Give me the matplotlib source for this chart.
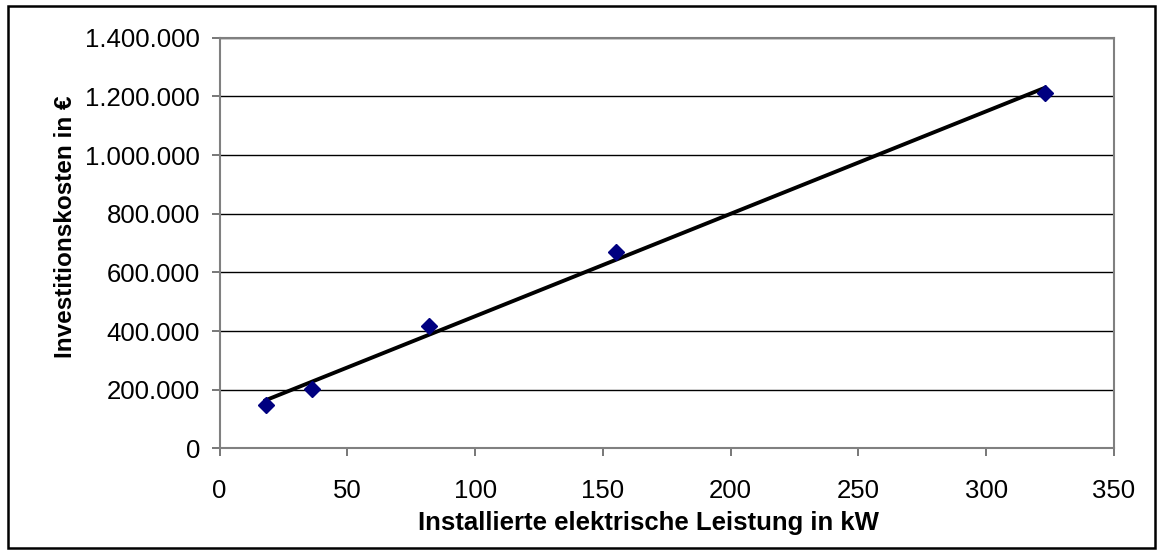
import numpy as np
import matplotlib.pyplot as plt
from matplotlib.patches import Rectangle
from matplotlib.ticker import FuncFormatter

# Werte
leistung_kw = [18, 36, 82, 155, 323]
kosten_eur = [149000, 203000, 416000, 669000, 1213000]

x_ticks = [0, 50, 100, 150, 200, 250, 300, 350]
y_ticks = [0, 200000, 400000, 600000, 800000, 1000000, 1200000, 1400000]

plt.rcParams['font.family'] = ['Liberation Sans', 'DejaVu Sans']

fig = plt.figure(figsize=(11.63, 5.53), dpi=100)
ax = fig.add_axes([0.1888, 0.1893, 0.9579 - 0.1888, 0.9318 - 0.1893])

# Rahmen um das gesamte Diagramm
fig.patches.append(Rectangle((8 / 1163, 5 / 553), 1147 / 1163, 542 / 553,
                             transform=fig.transFigure, fill=False,
                             edgecolor='black', linewidth=1.8))

# lineare Trendlinie
slope, intercept = np.polyfit(leistung_kw, kosten_eur, 1)
x_fit = np.array([min(leistung_kw), max(leistung_kw)])
ax.plot(x_fit, slope * x_fit + intercept, color='black', linewidth=2.8, zorder=3)

ax.plot(leistung_kw, kosten_eur, linestyle='none', marker='D', markersize=8,
        color='#000080', zorder=4)

ax.set_xlim(0, 350)
ax.set_ylim(0, 1400000)
ax.set_xticks(x_ticks)
ax.set_yticks(y_ticks)
ax.yaxis.set_major_formatter(FuncFormatter(lambda v, p: f'{int(v):,}'.replace(',', '.')))

ax.grid(axis='y', color='black', linewidth=1.0)
ax.set_axisbelow(True)
for s in ax.spines.values():
    s.set_color('#808080')
    s.set_linewidth(1.5)

ax.tick_params(axis='both', direction='out', length=6, width=1.2, color='#606060',
               labelsize=18.5)
ax.tick_params(axis='y', pad=8)
ax.tick_params(axis='x', pad=16)

ax.set_xlabel('Installierte elektrische Leistung in kW', fontsize=18.5, fontweight='bold', labelpad=6)
ax.set_ylabel('Investitionskosten in €', fontsize=17.5, fontweight='bold', labelpad=6)
ax.xaxis.label.set_x(0.48)
ax.yaxis.label.set_y(0.54)

fig.savefig('out.png', dpi=100)
